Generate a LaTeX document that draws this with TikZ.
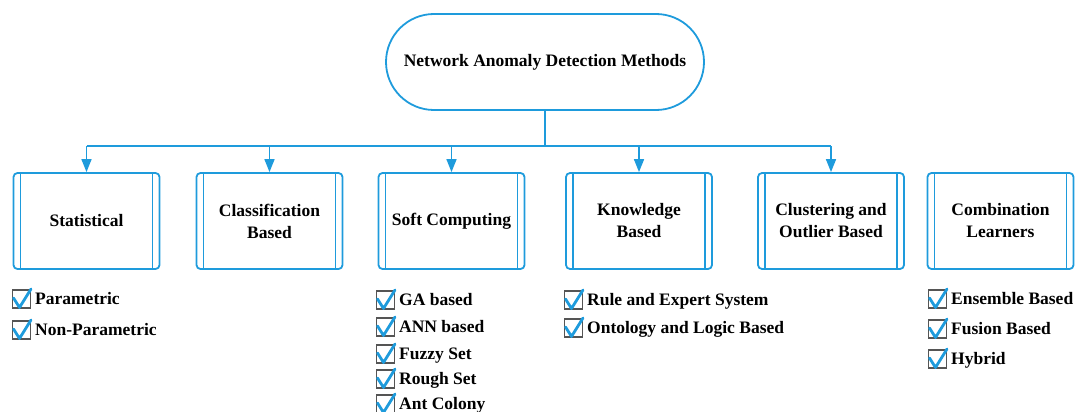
\documentclass[tikz,border=0pt]{standalone}
\usepackage{fontspec}
\setmainfont{Liberation Serif}[BoldFont={Liberation Serif Bold}]
\usetikzlibrary{shapes.misc,arrows.meta}
\definecolor{nblue}{RGB}{30,155,220}
\definecolor{cgray}{RGB}{85,85,85}
\begin{document}
\begin{tikzpicture}[x=1pt,y=-1pt,
  lbl/.style={font=\fontsize{17.5}{22}\selectfont\bfseries},
  topnode/.style={lbl,draw=nblue,line width=1.8pt,rounded rectangle,minimum width=318pt,minimum height=96pt,inner sep=0pt},
  procbox/.style={lbl,draw=nblue,line width=1.8pt,rounded corners=4pt,minimum width=146pt,minimum height=96pt,inner sep=0pt,align=center},
  conn/.style={draw=nblue,line width=1.6pt},
  arr/.style={conn,-{Triangle[length=13pt,width=10pt]}},
  item/.style={lbl,anchor=base west,inner sep=0pt},
  chkbox/.pic={
    \draw[cgray,line width=1.4pt] (-22.5,-8) rectangle (-4.5,10);
    \draw[nblue,line width=2.8pt,line cap=round,line join=round] (-21.5,0) -- (-15.5,9.5) -- (-4,-9);
  }
]
\useasboundingbox (0,0) rectangle (1076,412);

\node[topnode] (top) at (545,62) {Network Anomaly Detection Methods};

\node[procbox] (b1) at (86.5,221) {Statistical};
\node[procbox] (b2) at (269.5,221) {Classification\\Based};
\node[procbox] (b3) at (451.5,221) {Soft Computing};
\node[procbox] (b4) at (639,221) {Knowledge\\Based};
\node[procbox] (b5) at (831,221) {Clustering and\\Outlier Based};
\node[procbox] (b6) at (1000.5,221) {Combination\\Learners};

\foreach \b in {b1,b2,b3,b4,b5,b6}{
  \draw[nblue,line width=1.5pt] ([xshift=8pt]\b.north west) -- ([xshift=8pt]\b.south west);
  \draw[nblue,line width=1.5pt] ([xshift=-8pt]\b.north east) -- ([xshift=-8pt]\b.south east);
}

\coordinate (bus) at (545,146);
\draw[conn] (top.south) -- (bus);
\draw[conn] (b1.north |- bus) -- (b5.north |- bus);
\foreach \b in {b1,b2,b3,b4,b5}{
  \draw[arr] (\b.north |- bus) -- (\b.north);
}

% Statistical
\node[item] (s1) at (35,304) {Parametric};
\node[item] (s2) at (35,335) {Non-Parametric};
% Soft computing
\node[item] (c1) at (399,305) {GA based};
\node[item] (c2) at (399,332) {ANN based};
\node[item] (c3) at (399,359) {Fuzzy Set};
\node[item] (c4) at (399,384) {Rough Set};
\node[item] (c5) at (399,409) {Ant Colony};
% Knowledge
\node[item] (k1) at (587,305) {Rule and Expert System};
\node[item] (k2) at (587,333) {Ontology and Logic Based};
% Combination
\node[item] (m1) at (951,304) {Ensemble Based};
\node[item] (m2) at (951,334) {Fusion Based};
\node[item] (m3) at (951,364) {Hybrid};

\foreach \n/\y in {s1/298,s2/329,c1/299,c2/326,c3/353,c4/378,c5/403,k1/299,k2/327,m1/298,m2/328,m3/358}{
  \pic at (\n.base west |- 0,\y) {chkbox};
}
\end{tikzpicture}
\end{document}
